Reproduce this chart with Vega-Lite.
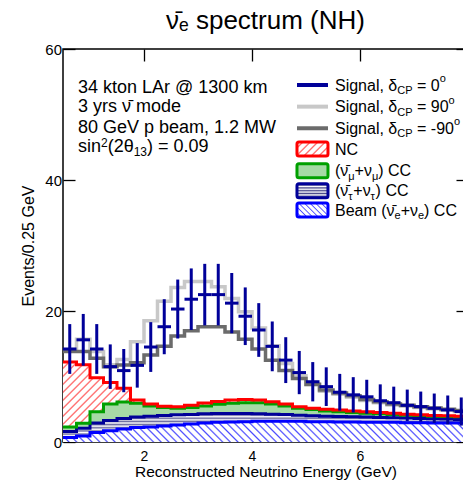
{
"$schema": "https://vega.github.io/schema/vega-lite/v6.json",
"width": 405, "height": 393,
"autosize": {"type": "none"},
"padding": {"left": 63, "top": 49, "right": 0, "bottom": 38},
"background": "white",
"config": {"view": {"stroke": "#000", "strokeWidth": 1.5}, "font": "Liberation Sans"},
"title": {"text": "ν̄ₑ spectrum (NH)", "fontSize": 26, "fontWeight": "normal", "font": "Liberation Sans", "color": "#000", "offset": 8, "anchor": "middle"},
"resolve": {"axis": {"x": "independent", "y": "independent"}},
"datasets": {
"hist": [
{"e":0.5,"e2":0.75,"c":0.625,"beam":0.7,"tau":1.6,"numu":2.3,"nc":12.2,"s90":14.1,"sm90":13.8,"s0":14.2,"lo":10.4,"hi":18.0},
{"e":0.75,"e2":1.0,"c":0.875,"beam":0.9,"tau":2.1,"numu":2.85,"nc":11.8,"s90":15.7,"sm90":13.8,"s0":15.6,"lo":11.65,"hi":19.55},
{"e":1.0,"e2":1.25,"c":1.125,"beam":1.45,"tau":2.9,"numu":4.6,"nc":9.8,"s90":13.8,"sm90":12.8,"s0":14.2,"lo":10.4,"hi":18.0},
{"e":1.25,"e2":1.5,"c":1.375,"beam":1.7,"tau":3.3,"numu":5.8,"nc":9.1,"s90":11.8,"sm90":11.5,"s0":11.5,"lo":8.1,"hi":14.9},
{"e":1.5,"e2":1.75,"c":1.625,"beam":2.0,"tau":3.6,"numu":6.1,"nc":8.2,"s90":12.6,"sm90":11.75,"s0":10.9,"lo":7.6,"hi":14.2},
{"e":1.75,"e2":2.0,"c":1.875,"beam":2.2,"tau":3.8,"numu":5.9,"nc":6.4,"s90":15.3,"sm90":12.1,"s0":11.7,"lo":8.3,"hi":15.1},
{"e":2.0,"e2":2.25,"c":2.125,"beam":2.3,"tau":3.95,"numu":5.5,"nc":5.8,"s90":18.5,"sm90":13.3,"s0":14.5,"lo":10.7,"hi":18.3},
{"e":2.25,"e2":2.5,"c":2.375,"beam":2.45,"tau":4.05,"numu":5.25,"nc":5.45,"s90":21.5,"sm90":14.6,"s0":17.6,"lo":13.4,"hi":21.8},
{"e":2.5,"e2":2.75,"c":2.625,"beam":2.6,"tau":4.15,"numu":5.15,"nc":5.4,"s90":23.6,"sm90":16.2,"s0":20.3,"lo":15.8,"hi":24.8},
{"e":2.75,"e2":3.0,"c":2.875,"beam":2.75,"tau":4.2,"numu":5.25,"nc":5.6,"s90":24.5,"sm90":17.0,"s0":21.8,"lo":17.1,"hi":26.5},
{"e":3.0,"e2":3.25,"c":3.125,"beam":2.9,"tau":4.3,"numu":5.5,"nc":5.95,"s90":24.5,"sm90":17.6,"s0":22.5,"lo":17.8,"hi":27.2},
{"e":3.25,"e2":3.5,"c":3.375,"beam":3.0,"tau":4.35,"numu":5.75,"nc":6.2,"s90":23.7,"sm90":17.6,"s0":22.5,"lo":17.8,"hi":27.2},
{"e":3.5,"e2":3.75,"c":3.625,"beam":3.05,"tau":4.35,"numu":5.9,"nc":6.4,"s90":21.9,"sm90":16.8,"s0":21.2,"lo":16.6,"hi":25.8},
{"e":3.75,"e2":4.0,"c":3.875,"beam":3.1,"tau":4.35,"numu":6.0,"nc":6.5,"s90":19.9,"sm90":15.7,"s0":19.2,"lo":14.8,"hi":23.6},
{"e":4.0,"e2":4.25,"c":4.125,"beam":3.15,"tau":4.3,"numu":6.0,"nc":6.4,"s90":17.4,"sm90":14.2,"s0":17.1,"lo":13.0,"hi":21.2},
{"e":4.25,"e2":4.5,"c":4.375,"beam":3.15,"tau":4.25,"numu":5.8,"nc":6.15,"s90":14.7,"sm90":12.5,"s0":14.6,"lo":10.8,"hi":18.4},
{"e":4.5,"e2":4.75,"c":4.625,"beam":3.15,"tau":4.2,"numu":5.5,"nc":5.8,"s90":12.0,"sm90":10.9,"s0":12.5,"lo":9.0,"hi":16.0},
{"e":4.75,"e2":5.0,"c":4.875,"beam":3.15,"tau":4.1,"numu":5.15,"nc":5.4,"s90":10.1,"sm90":9.7,"s0":10.6,"lo":7.3,"hi":13.9},
{"e":5.0,"e2":5.25,"c":5.125,"beam":3.1,"tau":4.0,"numu":4.95,"nc":5.15,"s90":8.7,"sm90":8.8,"s0":9.2,"lo":6.2,"hi":12.2},
{"e":5.25,"e2":5.5,"c":5.375,"beam":3.1,"tau":3.95,"numu":4.75,"nc":5.0,"s90":7.75,"sm90":7.95,"s0":8.45,"lo":5.5,"hi":11.4},
{"e":5.5,"e2":5.75,"c":5.625,"beam":3.05,"tau":3.9,"numu":4.6,"nc":4.9,"s90":7.3,"sm90":7.5,"s0":7.6,"lo":4.8,"hi":10.4},
{"e":5.75,"e2":6.0,"c":5.875,"beam":3.05,"tau":3.85,"numu":4.5,"nc":4.75,"s90":6.85,"sm90":7.05,"s0":7.2,"lo":4.5,"hi":9.9},
{"e":6.0,"e2":6.25,"c":6.125,"beam":3.0,"tau":3.8,"numu":4.4,"nc":4.6,"s90":6.35,"sm90":6.5,"s0":6.9,"lo":4.3,"hi":9.5},
{"e":6.25,"e2":6.5,"c":6.375,"beam":3.0,"tau":3.75,"numu":4.3,"nc":4.5,"s90":6.0,"sm90":6.15,"s0":6.3,"lo":3.8,"hi":8.8},
{"e":6.5,"e2":6.75,"c":6.625,"beam":3.0,"tau":3.7,"numu":4.2,"nc":4.4,"s90":5.65,"sm90":5.8,"s0":6.0,"lo":3.55,"hi":8.45},
{"e":6.75,"e2":7.0,"c":6.875,"beam":2.95,"tau":3.65,"numu":4.1,"nc":4.25,"s90":5.45,"sm90":5.6,"s0":5.6,"lo":3.2,"hi":8.0},
{"e":7.0,"e2":7.25,"c":7.125,"beam":2.95,"tau":3.6,"numu":4.05,"nc":4.15,"s90":5.25,"sm90":5.4,"s0":5.4,"lo":3.1,"hi":7.7},
{"e":7.25,"e2":7.5,"c":7.375,"beam":2.9,"tau":3.55,"numu":3.95,"nc":4.05,"s90":5.05,"sm90":5.2,"s0":5.15,"lo":2.9,"hi":7.4},
{"e":7.5,"e2":7.75,"c":7.625,"beam":2.9,"tau":3.5,"numu":3.9,"nc":4.0,"s90":4.85,"sm90":5.0,"s0":4.9,"lo":2.7,"hi":7.1},
{"e":7.75,"e2":8.0,"c":7.875,"beam":2.9,"tau":3.45,"numu":3.85,"nc":3.95,"s90":4.65,"sm90":4.8,"s0":4.65,"lo":2.5,"hi":6.8},
{"e":8.0,"beam":2.9,"tau":3.45,"numu":3.85,"nc":3.95,"s90":4.65,"sm90":4.8}
],
"legLines": [
{"s":"0","x":4.833,"x2":5.407,"y":54.5},
{"s":"90","x":4.833,"x2":5.407,"y":51.2},
{"s":"-90","x":4.833,"x2":5.407,"y":47.9}
],
"legBoxes": [
{"k":"nc","x":4.833,"x2":5.407,"y":45.8,"y2":43.66},
{"k":"numu","x":4.833,"x2":5.407,"y":42.49,"y2":40.35},
{"k":"tau","x":4.833,"x2":5.407,"y":39.44,"y2":37.3},
{"k":"beam","x":4.833,"x2":5.407,"y":36.49,"y2":34.35}
],
"annMain": [
{"x":0.778,"y":53.21,"t":"34 kton LAr @ 1300 km"},
{"x":0.778,"y":50.31,"t":"3 yrs ν̄ mode"},
{"x":0.778,"y":47.25,"t":"80 GeV p beam, 1.2 MW"},
{"x":0.778,"y":44.2,"t":"sin"},
{"x":1.328,"y":44.2,"t":"(2θ"},
{"x":2.056,"y":44.2,"t":") = 0.09"}
],
"annSmall": [
{"x":1.204,"y":44.98,"t":"2"},
{"x":1.809,"y":43.6,"t":"13"}
],
"legMain": [
{"x":5.537,"y":53.66,"t":"Signal, δ"},{"x":7.056,"y":53.66,"t":"= 0"},
{"x":5.537,"y":50.35,"t":"Signal, δ"},{"x":7.056,"y":50.35,"t":"= 90"},
{"x":5.537,"y":47.05,"t":"Signal, δ"},{"x":7.056,"y":47.05,"t":"= -90"},
{"x":5.537,"y":43.89,"t":"NC"},
{"x":5.537,"y":40.58,"t":"(ν̄"},{"x":5.9,"y":40.58,"t":"+ν"},{"x":6.337,"y":40.58,"t":") CC"},
{"x":5.537,"y":37.53,"t":"(ν̄"},{"x":5.876,"y":37.53,"t":"+ν"},{"x":6.289,"y":37.53,"t":") CC"},
{"x":5.537,"y":34.58,"t":"Beam (ν̄"},{"x":6.753,"y":34.58,"t":"+ν"},{"x":7.187,"y":34.58,"t":") CC"}
],
"legSmall": [
{"x":6.691,"y":53.13,"t":"CP"},{"x":7.476,"y":54.96,"t":"o"},
{"x":6.691,"y":49.82,"t":"CP"},{"x":7.641,"y":51.65,"t":"o"},
{"x":6.691,"y":46.52,"t":"CP"},{"x":7.741,"y":48.35,"t":"o"},
{"x":5.783,"y":40.05,"t":"μ"},{"x":6.22,"y":40.05,"t":"μ"},
{"x":5.783,"y":36.99,"t":"τ"},{"x":6.196,"y":36.99,"t":"τ"},
{"x":6.641,"y":34.05,"t":"e"},{"x":7.074,"y":34.05,"t":"e"}
]
},
"layer": [
{"data": {"name": "hist"},
 "mark": {"type": "area", "interpolate": "step-after", "fill": {"gradient": "linear", "x1": 0, "y1": 0, "x2": 1.1881, "y2": 0.2347, "stops": [
{"offset":0,"color":"#fff"},{"offset":0.009,"color":"#fff"},{"offset":0.0125,"color":"#ff5c5c"},
{"offset":0.016,"color":"#fff"},{"offset":0.025,"color":"#fff"},{"offset":0.0285,"color":"#ff5c5c"},
{"offset":0.032,"color":"#fff"},{"offset":0.041,"color":"#fff"},{"offset":0.0445,"color":"#ff5c5c"},
{"offset":0.048,"color":"#fff"},{"offset":0.057,"color":"#fff"},{"offset":0.0605,"color":"#ff5c5c"},
{"offset":0.064,"color":"#fff"},{"offset":0.073,"color":"#fff"},{"offset":0.0765,"color":"#ff5c5c"},
{"offset":0.08,"color":"#fff"},{"offset":0.089,"color":"#fff"},{"offset":0.0925,"color":"#ff5c5c"},
{"offset":0.096,"color":"#fff"},{"offset":0.105,"color":"#fff"},{"offset":0.1085,"color":"#ff5c5c"},
{"offset":0.112,"color":"#fff"},{"offset":0.121,"color":"#fff"},{"offset":0.1245,"color":"#ff5c5c"},
{"offset":0.128,"color":"#fff"},{"offset":0.137,"color":"#fff"},{"offset":0.1405,"color":"#ff5c5c"},
{"offset":0.144,"color":"#fff"},{"offset":0.153,"color":"#fff"},{"offset":0.1565,"color":"#ff5c5c"},
{"offset":0.16,"color":"#fff"},{"offset":0.169,"color":"#fff"},{"offset":0.1725,"color":"#ff5c5c"},
{"offset":0.176,"color":"#fff"},{"offset":0.185,"color":"#fff"},{"offset":0.1885,"color":"#ff5c5c"},
{"offset":0.192,"color":"#fff"},{"offset":0.201,"color":"#fff"},{"offset":0.2045,"color":"#ff5c5c"},
{"offset":0.208,"color":"#fff"},{"offset":0.217,"color":"#fff"},{"offset":0.2205,"color":"#ff5c5c"},
{"offset":0.224,"color":"#fff"},{"offset":0.233,"color":"#fff"},{"offset":0.2365,"color":"#ff5c5c"},
{"offset":0.24,"color":"#fff"},{"offset":0.249,"color":"#fff"},{"offset":0.2525,"color":"#ff5c5c"},
{"offset":0.256,"color":"#fff"},{"offset":0.265,"color":"#fff"},{"offset":0.2685,"color":"#ff5c5c"},
{"offset":0.272,"color":"#fff"},{"offset":0.281,"color":"#fff"},{"offset":0.2845,"color":"#ff5c5c"},
{"offset":0.288,"color":"#fff"},{"offset":0.297,"color":"#fff"},{"offset":0.3005,"color":"#ff5c5c"},
{"offset":0.304,"color":"#fff"},{"offset":0.313,"color":"#fff"},{"offset":0.3165,"color":"#ff5c5c"},
{"offset":0.32,"color":"#fff"},{"offset":0.329,"color":"#fff"},{"offset":0.3325,"color":"#ff5c5c"},
{"offset":0.336,"color":"#fff"},{"offset":0.345,"color":"#fff"},{"offset":0.3485,"color":"#ff5c5c"},
{"offset":0.352,"color":"#fff"},{"offset":0.361,"color":"#fff"},{"offset":0.3645,"color":"#ff5c5c"},
{"offset":0.368,"color":"#fff"},{"offset":0.377,"color":"#fff"},{"offset":0.3805,"color":"#ff5c5c"},
{"offset":0.384,"color":"#fff"},{"offset":0.393,"color":"#fff"},{"offset":0.3965,"color":"#ff5c5c"},
{"offset":0.4,"color":"#fff"},{"offset":0.409,"color":"#fff"},{"offset":0.4125,"color":"#ff5c5c"},
{"offset":0.416,"color":"#fff"},{"offset":0.425,"color":"#fff"},{"offset":0.4285,"color":"#ff5c5c"},
{"offset":0.432,"color":"#fff"},{"offset":0.441,"color":"#fff"},{"offset":0.4445,"color":"#ff5c5c"},
{"offset":0.448,"color":"#fff"},{"offset":0.457,"color":"#fff"},{"offset":0.4605,"color":"#ff5c5c"},
{"offset":0.464,"color":"#fff"},{"offset":0.473,"color":"#fff"},{"offset":0.4765,"color":"#ff5c5c"},
{"offset":0.48,"color":"#fff"},{"offset":0.489,"color":"#fff"},{"offset":0.4925,"color":"#ff5c5c"},
{"offset":0.496,"color":"#fff"},{"offset":0.505,"color":"#fff"},{"offset":0.5085,"color":"#ff5c5c"},
{"offset":0.512,"color":"#fff"},{"offset":0.521,"color":"#fff"},{"offset":0.5245,"color":"#ff5c5c"},
{"offset":0.528,"color":"#fff"},{"offset":0.537,"color":"#fff"},{"offset":0.5405,"color":"#ff5c5c"},
{"offset":0.544,"color":"#fff"},{"offset":0.553,"color":"#fff"},{"offset":0.5565,"color":"#ff5c5c"},
{"offset":0.56,"color":"#fff"},{"offset":0.569,"color":"#fff"},{"offset":0.5725,"color":"#ff5c5c"},
{"offset":0.576,"color":"#fff"},{"offset":0.585,"color":"#fff"},{"offset":0.5885,"color":"#ff5c5c"},
{"offset":0.592,"color":"#fff"},{"offset":0.601,"color":"#fff"},{"offset":0.6045,"color":"#ff5c5c"},
{"offset":0.608,"color":"#fff"},{"offset":0.617,"color":"#fff"},{"offset":0.6205,"color":"#ff5c5c"},
{"offset":0.624,"color":"#fff"},{"offset":0.633,"color":"#fff"},{"offset":0.6365,"color":"#ff5c5c"},
{"offset":0.64,"color":"#fff"},{"offset":0.649,"color":"#fff"},{"offset":0.6525,"color":"#ff5c5c"},
{"offset":0.656,"color":"#fff"},{"offset":0.665,"color":"#fff"},{"offset":0.6685,"color":"#ff5c5c"},
{"offset":0.672,"color":"#fff"},{"offset":0.681,"color":"#fff"},{"offset":0.6845,"color":"#ff5c5c"},
{"offset":0.688,"color":"#fff"},{"offset":0.697,"color":"#fff"},{"offset":0.7005,"color":"#ff5c5c"},
{"offset":0.704,"color":"#fff"},{"offset":0.713,"color":"#fff"},{"offset":0.7165,"color":"#ff5c5c"},
{"offset":0.72,"color":"#fff"},{"offset":0.729,"color":"#fff"},{"offset":0.7325,"color":"#ff5c5c"},
{"offset":0.736,"color":"#fff"},{"offset":0.745,"color":"#fff"},{"offset":0.7485,"color":"#ff5c5c"},
{"offset":0.752,"color":"#fff"},{"offset":0.761,"color":"#fff"},{"offset":0.7645,"color":"#ff5c5c"},
{"offset":0.768,"color":"#fff"},{"offset":0.777,"color":"#fff"},{"offset":0.7805,"color":"#ff5c5c"},
{"offset":0.784,"color":"#fff"},{"offset":0.793,"color":"#fff"},{"offset":0.7965,"color":"#ff5c5c"},
{"offset":0.8,"color":"#fff"},{"offset":0.809,"color":"#fff"},{"offset":0.8125,"color":"#ff5c5c"},
{"offset":0.816,"color":"#fff"},{"offset":0.825,"color":"#fff"},{"offset":0.8285,"color":"#ff5c5c"},
{"offset":0.832,"color":"#fff"},{"offset":0.841,"color":"#fff"},{"offset":0.8445,"color":"#ff5c5c"},
{"offset":0.848,"color":"#fff"},{"offset":0.857,"color":"#fff"},{"offset":0.8605,"color":"#ff5c5c"},
{"offset":0.864,"color":"#fff"},{"offset":0.873,"color":"#fff"},{"offset":0.8765,"color":"#ff5c5c"},
{"offset":0.88,"color":"#fff"},{"offset":0.889,"color":"#fff"},{"offset":0.8925,"color":"#ff5c5c"},
{"offset":0.896,"color":"#fff"},{"offset":0.905,"color":"#fff"},{"offset":0.9085,"color":"#ff5c5c"},
{"offset":0.912,"color":"#fff"},{"offset":0.921,"color":"#fff"},{"offset":0.9245,"color":"#ff5c5c"},
{"offset":0.928,"color":"#fff"},{"offset":0.937,"color":"#fff"},{"offset":0.9405,"color":"#ff5c5c"},
{"offset":0.944,"color":"#fff"},{"offset":0.953,"color":"#fff"},{"offset":0.9565,"color":"#ff5c5c"},
{"offset":0.96,"color":"#fff"},{"offset":0.969,"color":"#fff"},{"offset":0.9725,"color":"#ff5c5c"},
{"offset":0.976,"color":"#fff"},{"offset":1,"color":"#fff"}
]}},
 "encoding": {
  "x": {"field": "e", "type": "quantitative", "scale": {"domain": [0.5, 8], "nice": false, "zero": false},
        "axis": {"orient": "bottom", "values": [2, 4, 6], "title": "Reconstructed Neutrino Energy (GeV)", "domain": false, "grid": false, "ticks": true, "tickSize": -12, "tickWidth": 1.3, "tickColor": "#000", "labelFontSize": 14, "labelFont": "Liberation Sans", "labelColor": "#000", "labelPadding": 19, "titleFontSize": 15.5, "titleFont": "Liberation Sans", "titleFontWeight": "normal", "titleColor": "#000", "titlePadding": 1}},
  "y": {"field": "nc", "type": "quantitative", "stack": null, "scale": {"domain": [0, 60], "nice": false, "zero": true},
        "axis": {"orient": "left", "values": [0, 20, 40, 60], "title": "Events/0.25 GeV", "domain": false, "grid": false, "ticks": true, "tickSize": -12, "tickWidth": 1.3, "tickColor": "#000", "labelFontSize": 15, "labelFont": "Liberation Sans", "labelColor": "#000", "labelPadding": 13.5, "titleFontSize": 16, "titleFont": "Liberation Sans", "titleFontWeight": "normal", "titleColor": "#000", "titlePadding": 8}}
 }},
{"data": {"name": "hist"},
 "mark": {"type": "area", "interpolate": "step-after", "fill": "#a6daa6"},
 "encoding": {
  "x": {"field": "e", "type": "quantitative", "scale": {"domain": [0.5, 8], "nice": false, "zero": false}, "axis": null},
  "y": {"field": "numu", "type": "quantitative", "stack": null, "scale": {"domain": [0, 60], "nice": false, "zero": true}, "axis": null}
 }},
{"data": {"name": "hist"},
 "mark": {"type": "area", "interpolate": "step-after", "fill": {"gradient": "linear", "x1": 0, "y1": 0, "x2": 0, "y2": 1, "stops": [
{"offset":0,"color":"#fff"},{"offset":0.0556,"color":"#6a6a9e"},{"offset":0.1111,"color":"#fff"},{"offset":0.1667,"color":"#6a6a9e"},
{"offset":0.2222,"color":"#fff"},{"offset":0.2778,"color":"#6a6a9e"},{"offset":0.3333,"color":"#fff"},{"offset":0.3889,"color":"#6a6a9e"},
{"offset":0.4444,"color":"#fff"},{"offset":0.5,"color":"#6a6a9e"},{"offset":0.5556,"color":"#fff"},{"offset":0.6111,"color":"#6a6a9e"},
{"offset":0.6667,"color":"#fff"},{"offset":0.7222,"color":"#6a6a9e"},{"offset":0.7778,"color":"#fff"},{"offset":0.8333,"color":"#6a6a9e"},
{"offset":0.8889,"color":"#fff"},{"offset":0.9444,"color":"#6a6a9e"},{"offset":1,"color":"#fff"}
]}},
 "encoding": {
  "x": {"field": "e", "type": "quantitative", "scale": {"domain": [0.5, 8], "nice": false, "zero": false}, "axis": null},
  "y": {"field": "tau", "type": "quantitative", "stack": null, "scale": {"domain": [0, 60], "nice": false, "zero": true}, "axis": null}
 }},
{"data": {"name": "hist"},
 "mark": {"type": "area", "interpolate": "step-after", "fill": {"gradient": "linear", "x1": 0, "y1": 1, "x2": 1.1822, "y2": 0.9398, "stops": [
{"offset":0,"color":"#fff"},{"offset":0.009,"color":"#fff"},{"offset":0.0125,"color":"#4a4aff"},
{"offset":0.016,"color":"#fff"},{"offset":0.025,"color":"#fff"},{"offset":0.0285,"color":"#4a4aff"},
{"offset":0.032,"color":"#fff"},{"offset":0.041,"color":"#fff"},{"offset":0.0445,"color":"#4a4aff"},
{"offset":0.048,"color":"#fff"},{"offset":0.057,"color":"#fff"},{"offset":0.0605,"color":"#4a4aff"},
{"offset":0.064,"color":"#fff"},{"offset":0.073,"color":"#fff"},{"offset":0.0765,"color":"#4a4aff"},
{"offset":0.08,"color":"#fff"},{"offset":0.089,"color":"#fff"},{"offset":0.0925,"color":"#4a4aff"},
{"offset":0.096,"color":"#fff"},{"offset":0.105,"color":"#fff"},{"offset":0.1085,"color":"#4a4aff"},
{"offset":0.112,"color":"#fff"},{"offset":0.121,"color":"#fff"},{"offset":0.1245,"color":"#4a4aff"},
{"offset":0.128,"color":"#fff"},{"offset":0.137,"color":"#fff"},{"offset":0.1405,"color":"#4a4aff"},
{"offset":0.144,"color":"#fff"},{"offset":0.153,"color":"#fff"},{"offset":0.1565,"color":"#4a4aff"},
{"offset":0.16,"color":"#fff"},{"offset":0.169,"color":"#fff"},{"offset":0.1725,"color":"#4a4aff"},
{"offset":0.176,"color":"#fff"},{"offset":0.185,"color":"#fff"},{"offset":0.1885,"color":"#4a4aff"},
{"offset":0.192,"color":"#fff"},{"offset":0.201,"color":"#fff"},{"offset":0.2045,"color":"#4a4aff"},
{"offset":0.208,"color":"#fff"},{"offset":0.217,"color":"#fff"},{"offset":0.2205,"color":"#4a4aff"},
{"offset":0.224,"color":"#fff"},{"offset":0.233,"color":"#fff"},{"offset":0.2365,"color":"#4a4aff"},
{"offset":0.24,"color":"#fff"},{"offset":0.249,"color":"#fff"},{"offset":0.2525,"color":"#4a4aff"},
{"offset":0.256,"color":"#fff"},{"offset":0.265,"color":"#fff"},{"offset":0.2685,"color":"#4a4aff"},
{"offset":0.272,"color":"#fff"},{"offset":0.281,"color":"#fff"},{"offset":0.2845,"color":"#4a4aff"},
{"offset":0.288,"color":"#fff"},{"offset":0.297,"color":"#fff"},{"offset":0.3005,"color":"#4a4aff"},
{"offset":0.304,"color":"#fff"},{"offset":0.313,"color":"#fff"},{"offset":0.3165,"color":"#4a4aff"},
{"offset":0.32,"color":"#fff"},{"offset":0.329,"color":"#fff"},{"offset":0.3325,"color":"#4a4aff"},
{"offset":0.336,"color":"#fff"},{"offset":0.345,"color":"#fff"},{"offset":0.3485,"color":"#4a4aff"},
{"offset":0.352,"color":"#fff"},{"offset":0.361,"color":"#fff"},{"offset":0.3645,"color":"#4a4aff"},
{"offset":0.368,"color":"#fff"},{"offset":0.377,"color":"#fff"},{"offset":0.3805,"color":"#4a4aff"},
{"offset":0.384,"color":"#fff"},{"offset":0.393,"color":"#fff"},{"offset":0.3965,"color":"#4a4aff"},
{"offset":0.4,"color":"#fff"},{"offset":0.409,"color":"#fff"},{"offset":0.4125,"color":"#4a4aff"},
{"offset":0.416,"color":"#fff"},{"offset":0.425,"color":"#fff"},{"offset":0.4285,"color":"#4a4aff"},
{"offset":0.432,"color":"#fff"},{"offset":0.441,"color":"#fff"},{"offset":0.4445,"color":"#4a4aff"},
{"offset":0.448,"color":"#fff"},{"offset":0.457,"color":"#fff"},{"offset":0.4605,"color":"#4a4aff"},
{"offset":0.464,"color":"#fff"},{"offset":0.473,"color":"#fff"},{"offset":0.4765,"color":"#4a4aff"},
{"offset":0.48,"color":"#fff"},{"offset":0.489,"color":"#fff"},{"offset":0.4925,"color":"#4a4aff"},
{"offset":0.496,"color":"#fff"},{"offset":0.505,"color":"#fff"},{"offset":0.5085,"color":"#4a4aff"},
{"offset":0.512,"color":"#fff"},{"offset":0.521,"color":"#fff"},{"offset":0.5245,"color":"#4a4aff"},
{"offset":0.528,"color":"#fff"},{"offset":0.537,"color":"#fff"},{"offset":0.5405,"color":"#4a4aff"},
{"offset":0.544,"color":"#fff"},{"offset":0.553,"color":"#fff"},{"offset":0.5565,"color":"#4a4aff"},
{"offset":0.56,"color":"#fff"},{"offset":0.569,"color":"#fff"},{"offset":0.5725,"color":"#4a4aff"},
{"offset":0.576,"color":"#fff"},{"offset":0.585,"color":"#fff"},{"offset":0.5885,"color":"#4a4aff"},
{"offset":0.592,"color":"#fff"},{"offset":0.601,"color":"#fff"},{"offset":0.6045,"color":"#4a4aff"},
{"offset":0.608,"color":"#fff"},{"offset":0.617,"color":"#fff"},{"offset":0.6205,"color":"#4a4aff"},
{"offset":0.624,"color":"#fff"},{"offset":0.633,"color":"#fff"},{"offset":0.6365,"color":"#4a4aff"},
{"offset":0.64,"color":"#fff"},{"offset":0.649,"color":"#fff"},{"offset":0.6525,"color":"#4a4aff"},
{"offset":0.656,"color":"#fff"},{"offset":0.665,"color":"#fff"},{"offset":0.6685,"color":"#4a4aff"},
{"offset":0.672,"color":"#fff"},{"offset":0.681,"color":"#fff"},{"offset":0.6845,"color":"#4a4aff"},
{"offset":0.688,"color":"#fff"},{"offset":0.697,"color":"#fff"},{"offset":0.7005,"color":"#4a4aff"},
{"offset":0.704,"color":"#fff"},{"offset":0.713,"color":"#fff"},{"offset":0.7165,"color":"#4a4aff"},
{"offset":0.72,"color":"#fff"},{"offset":0.729,"color":"#fff"},{"offset":0.7325,"color":"#4a4aff"},
{"offset":0.736,"color":"#fff"},{"offset":0.745,"color":"#fff"},{"offset":0.7485,"color":"#4a4aff"},
{"offset":0.752,"color":"#fff"},{"offset":0.761,"color":"#fff"},{"offset":0.7645,"color":"#4a4aff"},
{"offset":0.768,"color":"#fff"},{"offset":0.777,"color":"#fff"},{"offset":0.7805,"color":"#4a4aff"},
{"offset":0.784,"color":"#fff"},{"offset":0.793,"color":"#fff"},{"offset":0.7965,"color":"#4a4aff"},
{"offset":0.8,"color":"#fff"},{"offset":0.809,"color":"#fff"},{"offset":0.8125,"color":"#4a4aff"},
{"offset":0.816,"color":"#fff"},{"offset":0.825,"color":"#fff"},{"offset":0.8285,"color":"#4a4aff"},
{"offset":0.832,"color":"#fff"},{"offset":0.841,"color":"#fff"},{"offset":0.8445,"color":"#4a4aff"},
{"offset":0.848,"color":"#fff"},{"offset":0.857,"color":"#fff"},{"offset":0.8605,"color":"#4a4aff"},
{"offset":0.864,"color":"#fff"},{"offset":0.873,"color":"#fff"},{"offset":0.8765,"color":"#4a4aff"},
{"offset":0.88,"color":"#fff"},{"offset":0.889,"color":"#fff"},{"offset":0.8925,"color":"#4a4aff"},
{"offset":0.896,"color":"#fff"},{"offset":1,"color":"#fff"}
]}},
 "encoding": {
  "x": {"field": "e", "type": "quantitative", "scale": {"domain": [0.5, 8], "nice": false, "zero": false}, "axis": null},
  "y": {"field": "beam", "type": "quantitative", "stack": null, "scale": {"domain": [0, 60], "nice": false, "zero": true}, "axis": null}
 }},
{"data": {"name": "hist"},
 "mark": {"type": "line", "interpolate": "step-after", "color": "#0000ff", "strokeWidth": 3},
 "encoding": {
  "x": {"field": "e", "type": "quantitative", "scale": {"domain": [0.5, 8], "nice": false, "zero": false}, "axis": null},
  "y": {"field": "beam", "type": "quantitative", "scale": {"domain": [0, 60], "nice": false, "zero": true}, "axis": null}
 }},
{"data": {"name": "hist"},
 "mark": {"type": "line", "interpolate": "step-after", "color": "#000099", "strokeWidth": 3},
 "encoding": {
  "x": {"field": "e", "type": "quantitative", "scale": {"domain": [0.5, 8], "nice": false, "zero": false}, "axis": null},
  "y": {"field": "tau", "type": "quantitative", "scale": {"domain": [0, 60], "nice": false, "zero": true}, "axis": null}
 }},
{"data": {"name": "hist"},
 "mark": {"type": "line", "interpolate": "step-after", "color": "#00a000", "strokeWidth": 3},
 "encoding": {
  "x": {"field": "e", "type": "quantitative", "scale": {"domain": [0.5, 8], "nice": false, "zero": false}, "axis": null},
  "y": {"field": "numu", "type": "quantitative", "scale": {"domain": [0, 60], "nice": false, "zero": true}, "axis": null}
 }},
{"data": {"name": "hist"},
 "mark": {"type": "line", "interpolate": "step-after", "color": "#ff0000", "strokeWidth": 3},
 "encoding": {
  "x": {"field": "e", "type": "quantitative", "scale": {"domain": [0.5, 8], "nice": false, "zero": false}, "axis": null},
  "y": {"field": "nc", "type": "quantitative", "scale": {"domain": [0, 60], "nice": false, "zero": true}, "axis": null}
 }},
{"data": {"name": "hist"},
 "mark": {"type": "line", "interpolate": "step-after", "color": "#c8c8c8", "strokeWidth": 3.5},
 "encoding": {
  "x": {"field": "e", "type": "quantitative", "scale": {"domain": [0.5, 8], "nice": false, "zero": false},
        "axis": {"orient": "top", "values": [2, 4, 6], "labels": false, "title": null, "domain": false, "grid": false, "ticks": true, "tickSize": -12, "tickWidth": 1.3, "tickColor": "#000"}},
  "y": {"field": "s90", "type": "quantitative", "scale": {"domain": [0, 60], "nice": false, "zero": true},
        "axis": {"orient": "right", "values": [0, 20, 40, 60], "labels": false, "title": null, "domain": false, "grid": false, "ticks": true, "tickSize": -12, "tickWidth": 1.3, "tickColor": "#000"}}
 }},
{"data": {"name": "hist"},
 "mark": {"type": "line", "interpolate": "step-after", "color": "#6b6b6b", "strokeWidth": 3.5},
 "encoding": {
  "x": {"field": "e", "type": "quantitative", "scale": {"domain": [0.5, 8], "nice": false, "zero": false}, "axis": null},
  "y": {"field": "sm90", "type": "quantitative", "scale": {"domain": [0, 60], "nice": false, "zero": true}, "axis": null}
 }},
{"data": {"name": "hist"},
 "mark": {"type": "rule", "color": "#000099", "strokeWidth": 3},
 "encoding": {
  "x": {"field": "c", "type": "quantitative", "scale": {"domain": [0.5, 8], "nice": false, "zero": false}, "axis": null},
  "y": {"field": "lo", "type": "quantitative", "scale": {"domain": [0, 60], "nice": false, "zero": true}, "axis": null},
  "y2": {"field": "hi"}
 }},
{"data": {"name": "hist"},
 "mark": {"type": "rule", "color": "#000099", "strokeWidth": 3},
 "encoding": {
  "x": {"field": "e", "type": "quantitative", "scale": {"domain": [0.5, 8], "nice": false, "zero": false}, "axis": null},
  "x2": {"field": "e2"},
  "y": {"field": "s0", "type": "quantitative", "scale": {"domain": [0, 60], "nice": false, "zero": true}, "axis": null}
 }},
{"data": {"name": "legLines"},
 "mark": {"type": "rule", "strokeWidth": 4},
 "encoding": {
  "x": {"field": "x", "type": "quantitative", "scale": {"domain": [0.5, 8], "nice": false, "zero": false}, "axis": null},
  "x2": {"field": "x2"},
  "y": {"field": "y", "type": "quantitative", "scale": {"domain": [0, 60], "nice": false, "zero": true}, "axis": null},
  "color": {"field": "s", "type": "nominal", "scale": {"domain": ["0", "90", "-90"], "range": ["#000099", "#c8c8c8", "#6b6b6b"]}, "legend": null}
 }},
{"data": {"name": "legBoxes"},
 "transform": [{"filter": "datum.k === 'nc'"}],
 "mark": {"type": "rect", "stroke": "#ff0000", "strokeWidth": 3, "cornerRadius": 2, "fill": {"gradient": "linear", "x1": 0, "y1": 0, "x2": 1.2058, "y2": 0.5445, "stops": [
{"offset":0,"color":"#fff"},{"offset":0.0917,"color":"#fff"},{"offset":0.1292,"color":"#ff5c5c"},
{"offset":0.1667,"color":"#fff"},{"offset":0.2583,"color":"#fff"},{"offset":0.2958,"color":"#ff5c5c"},
{"offset":0.3333,"color":"#fff"},{"offset":0.425,"color":"#fff"},{"offset":0.4625,"color":"#ff5c5c"},
{"offset":0.5,"color":"#fff"},{"offset":0.5917,"color":"#fff"},{"offset":0.6292,"color":"#ff5c5c"},
{"offset":0.6667,"color":"#fff"},{"offset":0.7583,"color":"#fff"},{"offset":0.7958,"color":"#ff5c5c"},
{"offset":0.8333,"color":"#fff"},{"offset":0.925,"color":"#fff"},{"offset":0.9625,"color":"#ff5c5c"},
{"offset":1,"color":"#fff"}
]}},
 "encoding": {
  "x": {"field": "x", "type": "quantitative", "scale": {"domain": [0.5, 8], "nice": false, "zero": false}, "axis": null},
  "x2": {"field": "x2"},
  "y": {"field": "y", "type": "quantitative", "scale": {"domain": [0, 60], "nice": false, "zero": true}, "axis": null},
  "y2": {"field": "y2"}
 }},
{"data": {"name": "legBoxes"},
 "transform": [{"filter": "datum.k === 'numu'"}],
 "mark": {"type": "rect", "stroke": "#00a000", "strokeWidth": 3, "cornerRadius": 2, "fill": "#a6daa6"},
 "encoding": {
  "x": {"field": "x", "type": "quantitative", "scale": {"domain": [0.5, 8], "nice": false, "zero": false}, "axis": null},
  "x2": {"field": "x2"},
  "y": {"field": "y", "type": "quantitative", "scale": {"domain": [0, 60], "nice": false, "zero": true}, "axis": null},
  "y2": {"field": "y2"}
 }},
{"data": {"name": "legBoxes"},
 "transform": [{"filter": "datum.k === 'tau'"}],
 "mark": {"type": "rect", "stroke": "#000099", "strokeWidth": 3, "cornerRadius": 2, "fill": {"gradient": "linear", "x1": 0, "y1": 0, "x2": 0, "y2": 1, "stops": [
{"offset":0,"color":"#fff"},{"offset":0.1,"color":"#4a4a8a"},{"offset":0.2,"color":"#fff"},{"offset":0.3,"color":"#4a4a8a"},
{"offset":0.4,"color":"#fff"},{"offset":0.5,"color":"#4a4a8a"},{"offset":0.6,"color":"#fff"},{"offset":0.7,"color":"#4a4a8a"},
{"offset":0.8,"color":"#fff"},{"offset":0.9,"color":"#4a4a8a"},{"offset":1,"color":"#fff"}
]}},
 "encoding": {
  "x": {"field": "x", "type": "quantitative", "scale": {"domain": [0.5, 8], "nice": false, "zero": false}, "axis": null},
  "x2": {"field": "x2"},
  "y": {"field": "y", "type": "quantitative", "scale": {"domain": [0, 60], "nice": false, "zero": true}, "axis": null},
  "y2": {"field": "y2"}
 }},
{"data": {"name": "legBoxes"},
 "transform": [{"filter": "datum.k === 'beam'"}],
 "mark": {"type": "rect", "stroke": "#0000ff", "strokeWidth": 3, "cornerRadius": 2, "fill": {"gradient": "linear", "x1": 0, "y1": 1, "x2": 1.2058, "y2": 0.4555, "stops": [
{"offset":0,"color":"#fff"},{"offset":0.069,"color":"#fff"},{"offset":0.097,"color":"#4a4aff"},
{"offset":0.125,"color":"#fff"},{"offset":0.194,"color":"#fff"},{"offset":0.222,"color":"#4a4aff"},
{"offset":0.25,"color":"#fff"},{"offset":0.319,"color":"#fff"},{"offset":0.347,"color":"#4a4aff"},
{"offset":0.375,"color":"#fff"},{"offset":0.444,"color":"#fff"},{"offset":0.472,"color":"#4a4aff"},
{"offset":0.5,"color":"#fff"},{"offset":0.569,"color":"#fff"},{"offset":0.597,"color":"#4a4aff"},
{"offset":0.625,"color":"#fff"},{"offset":0.694,"color":"#fff"},{"offset":0.722,"color":"#4a4aff"},
{"offset":0.75,"color":"#fff"},{"offset":0.819,"color":"#fff"},{"offset":0.847,"color":"#4a4aff"},
{"offset":0.875,"color":"#fff"},{"offset":0.944,"color":"#fff"},{"offset":0.972,"color":"#4a4aff"},
{"offset":1,"color":"#fff"}
]}},
 "encoding": {
  "x": {"field": "x", "type": "quantitative", "scale": {"domain": [0.5, 8], "nice": false, "zero": false}, "axis": null},
  "x2": {"field": "x2"},
  "y": {"field": "y", "type": "quantitative", "scale": {"domain": [0, 60], "nice": false, "zero": true}, "axis": null},
  "y2": {"field": "y2"}
 }},
{"data": {"name": "annMain"},
 "mark": {"type": "text", "font": "Liberation Sans", "fontSize": 18, "align": "left", "baseline": "alphabetic", "color": "#000"},
 "encoding": {
  "x": {"field": "x", "type": "quantitative", "scale": {"domain": [0.5, 8], "nice": false, "zero": false}, "axis": null},
  "y": {"field": "y", "type": "quantitative", "scale": {"domain": [0, 60], "nice": false, "zero": true}, "axis": null},
  "text": {"field": "t"}
 }},
{"data": {"name": "annSmall"},
 "mark": {"type": "text", "font": "Liberation Sans", "fontSize": 12, "align": "left", "baseline": "alphabetic", "color": "#000"},
 "encoding": {
  "x": {"field": "x", "type": "quantitative", "scale": {"domain": [0.5, 8], "nice": false, "zero": false}, "axis": null},
  "y": {"field": "y", "type": "quantitative", "scale": {"domain": [0, 60], "nice": false, "zero": true}, "axis": null},
  "text": {"field": "t"}
 }},
{"data": {"name": "legMain"},
 "mark": {"type": "text", "font": "Liberation Sans", "fontSize": 16, "align": "left", "baseline": "alphabetic", "color": "#000"},
 "encoding": {
  "x": {"field": "x", "type": "quantitative", "scale": {"domain": [0.5, 8], "nice": false, "zero": false}, "axis": null},
  "y": {"field": "y", "type": "quantitative", "scale": {"domain": [0, 60], "nice": false, "zero": true}, "axis": null},
  "text": {"field": "t"}
 }},
{"data": {"name": "legSmall"},
 "mark": {"type": "text", "font": "Liberation Sans", "fontSize": 11, "align": "left", "baseline": "alphabetic", "color": "#000"},
 "encoding": {
  "x": {"field": "x", "type": "quantitative", "scale": {"domain": [0.5, 8], "nice": false, "zero": false}, "axis": null},
  "y": {"field": "y", "type": "quantitative", "scale": {"domain": [0, 60], "nice": false, "zero": true}, "axis": null},
  "text": {"field": "t"}
 }}
]
}
